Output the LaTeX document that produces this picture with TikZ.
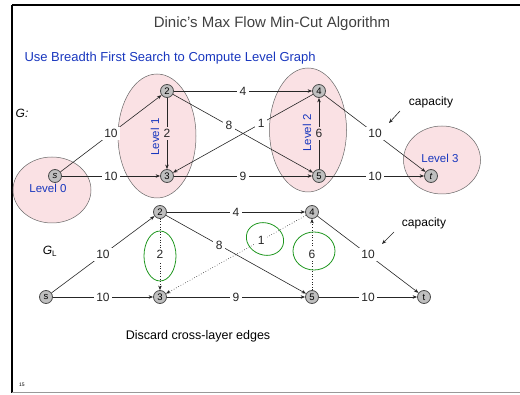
\documentclass[tikz,border=0pt]{standalone}
\usepackage{fontspec}
\setmainfont{Liberation Sans}
\usetikzlibrary{arrows.meta, positioning}
\definecolor{slideblue}{RGB}{25,55,190}
\definecolor{lvlpink}{RGB}{250,225,228}
\definecolor{penmark}{RGB}{30,150,30}
\tikzset{
  >={Stealth[length=4.5pt,width=3.5pt]},
  vert/.style = {circle, draw=black!70, fill=black!25, thick, minimum size=13pt,
                 inner sep=0pt, font=\fontsize{9.5}{9.5}\selectfont},
  edge/.style = {->, black!85, line width=0.6pt},
  dotedge/.style = {edge, dotted},
  lbl/.style = {fill=white, inner sep=2.5pt, font=\fontsize{12}{12}\selectfont},
  inlbl/.style = {lbl, fill=lvlpink},
  level/.style = {draw=black!60, fill=lvlpink, line width=0.5pt},
  lvltext/.style = {text=slideblue, font=\fontsize{11.5}{11.5}\selectfont},
  penring/.style = {draw=penmark, line width=0.8pt},
}

\begin{document}
\begin{tikzpicture}[x=1pt, y=-1pt]
  \useasboundingbox (0,0) rectangle (520,395);

  % slide frame
  \draw[line width=2pt] (12,5) -- (520,5);
  \draw[line width=2.5pt] (12,5) -- (12,393);
  \draw[black!40, line width=1pt] (12,393) -- (520,393);

  \node (title) [text=black!75, font=\fontsize{15}{15}\selectfont] at (272,24) {Dinic's Max Flow Min-Cut Algorithm};
  \node (sub) [anchor=west, text=slideblue, font=\fontsize{13}{13}\selectfont] at (21,58) {Use Breadth First Search to Compute Level Graph};

  % level sets
  \draw[level] (52,190) ellipse [x radius=39, y radius=33];
  \draw[level] (157,136) ellipse [x radius=39, y radius=62];
  \draw[level] (308,130) ellipse [x radius=38.5, y radius=62];
  \draw[level] (442,160) ellipse [x radius=38.5, y radius=34];

  \node (lv0) [lvltext] at (48,188) {Level 0};
  \node (lv1) [lvltext, rotate=90] at (155,137) {Level 1};
  \node (lv2) [lvltext, rotate=90] at (307,133) {Level 2};
  \node (lv3) [lvltext] at (440,158) {Level 3};

  % graph G
  \node (G) [font=\fontsize{12}{12}\selectfont\itshape] at (22,113) {G:};
  \node (s)  [vert] at (55,176)  {\itshape s};
  \node (a2) [vert] at (167,91)  {2};
  \node (a3) [vert] at (167,176) {3};
  \node (a4) [vert] at (319,91)  {4};
  \node (a5) [vert] at (319,176) {5};
  \node (t)  [vert] at (431,176) {\itshape t};

  \draw[edge] (s) -- node[lbl] {10} (a2);
  \draw[edge] (s) -- node[lbl] {10} (a3);
  \draw[edge] (a2) -- node[inlbl] {2} (a3);
  \draw[edge] (a2) -- node[lbl] {4} (a4);
  \draw[edge] (a2) -- node[lbl, pos=0.4] {8} (a5);
  \draw[edge] (a4) -- node[lbl, pos=0.37] {1} (a3);
  \draw[edge] (a3) -- node[lbl] {9} (a5);
  \draw[edge] (a5) -- node[inlbl] {6} (a4);
  \draw[edge] (a4) -- node[lbl] {10} (t);
  \draw[edge] (a5) -- node[lbl] {10} (t);

  \node (cap) [font=\fontsize{12}{12}\selectfont] at (431,102) {capacity};
  \coordinate (capA) at (400,111);
  \coordinate (capB) at (389,123);
  \draw[->, black!85, line width=0.6pt] (capA) -- (capB);

  % level graph G_L
  \node (GL) [font=\fontsize{12}{12}\selectfont\itshape] at (50,251) {G\textsubscript{\upshape L}};
  \node (ls)  [vert] at (46,297)  {s};
  \node (b2) [vert] at (160,212) {2};
  \node (b3) [vert] at (160,297) {3};
  \node (b4) [vert] at (312,212) {4};
  \node (b5) [vert] at (312,297) {5};
  \node (lt)  [vert] at (424,297) {t};

  \draw[edge] (ls) -- node[lbl] {10} (b2);
  \draw[edge] (ls) -- node[lbl] {10} (b3);
  \draw[dotedge] (b2) -- node[lbl] {2} (b3);
  \draw[edge] (b2) -- node[lbl] {4} (b4);
  \draw[edge] (b2) -- node[lbl, pos=0.38] {8} (b5);
  \draw[dotedge] (b4) -- node[lbl, pos=0.32] {1} (b3);
  \draw[edge] (b3) -- node[lbl] {9} (b5);
  \draw[dotedge] (b5) -- node[lbl] {6} (b4);
  \draw[edge] (b4) -- node[lbl] {10} (lt);
  \draw[edge] (b5) -- node[lbl] {10} (lt);

  % pen circles round the dropped edges
  \draw[penring] (160,256) ellipse [x radius=16, y radius=25];
  \draw[penring, rotate around={-20:(265,239)}] (265,239) ellipse [x radius=19, y radius=16];
  \draw[penring] (314,251) ellipse [x radius=21, y radius=19];

  \node (cap2) [font=\fontsize{12}{12}\selectfont] at (424,223) {capacity};
  \coordinate (capC) at (394,232);
  \coordinate (capD) at (382,244);
  \draw[->, black!85, line width=0.6pt] (capC) -- (capD);

  \node (note) [font=\fontsize{12.5}{12.5}\selectfont] at (198,336) {Discard cross-layer edges};
  \node (pg) [font=\fontsize{5}{5}\selectfont] at (22,385) {15};
\end{tikzpicture}
\end{document}
